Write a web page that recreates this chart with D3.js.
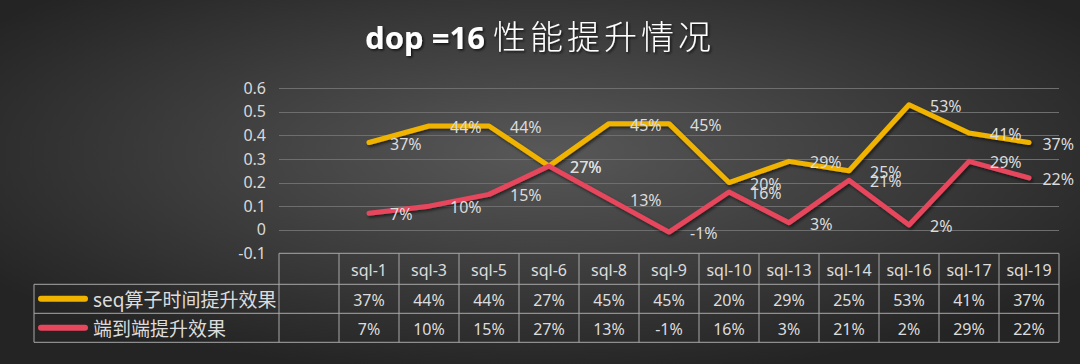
<!DOCTYPE html>
<html><head><meta charset="utf-8">
<script src="https://cdn.jsdelivr.net/npm/d3@7"></script>
<style>
html,body{margin:0;padding:0;background:#333;}
svg{display:block;}
text{font-family:"Noto Sans","Noto Sans CJK SC",sans-serif;}
</style></head>
<body>
<svg id="chart" width="1080" height="364"></svg>
<script>
const titleLatin = "dop =16 ";
const titleCJK = "性能提升情况";
const categories = ["sql-1","sql-3","sql-5","sql-6","sql-8","sql-9","sql-10","sql-13","sql-14","sql-16","sql-17","sql-19"];
const seriesNames = ["seq算子时间提升效果","端到端提升效果"];
const seqValues = [0.37,0.44,0.44,0.27,0.45,0.45,0.20,0.29,0.25,0.53,0.41,0.37];
const e2eValues = [0.07,0.10,0.15,0.27,0.13,-0.01,0.16,0.03,0.21,0.02,0.29,0.22];
const yTicks = [-0.1,0,0.1,0.2,0.3,0.4,0.5,0.6];
const yTickLabels = ["-0.1","0","0.1","0.2","0.3","0.4","0.5","0.6"];
const colors = ["#f0b400","#e6475d"];

const svg = d3.select("#chart");
const W = 1080, H = 364;
const defs = svg.append("defs");
const rg = defs.append("radialGradient").attr("id","bg").attr("cx","50%").attr("cy","42%").attr("r","62%");
rg.append("stop").attr("offset","0%").attr("stop-color","#585858");
rg.append("stop").attr("offset","100%").attr("stop-color","#242424");
const f = defs.append("filter").attr("id","sh").attr("x","-10%").attr("y","-30%").attr("width","120%").attr("height","160%");
f.append("feDropShadow").attr("dx",1.5).attr("dy",2).attr("stdDeviation",1.5).attr("flood-color","#000").attr("flood-opacity",0.55);
const ft = defs.append("filter").attr("id","tsh");
ft.append("feDropShadow").attr("dx",1.5).attr("dy",1.5).attr("stdDeviation",1).attr("flood-color","#000").attr("flood-opacity",0.7);

svg.append("rect").attr("width",W).attr("height",H).attr("fill","url(#bg)");

// title
const t = svg.append("text").attr("x",540).attr("y",49).attr("text-anchor","middle").attr("fill","#ffffff").attr("filter","url(#tsh)");
t.append("tspan").attr("font-weight","bold").attr("font-size",31).text(titleLatin);
t.append("tspan").attr("font-family","'Noto Sans CJK SC'").attr("font-weight",300).attr("font-size",33).attr("letter-spacing",4).text(titleCJK);

const x = d3.scaleBand().domain(["", ...categories]).range([279, 1059]);
const y = d3.scaleLinear().domain([-0.1, 0.6]).range([253.3, 88.3]);

// gridlines
svg.append("g").selectAll("line").data(yTicks.filter(d => d > -0.1)).join("line")
  .attr("x1",279).attr("x2",1059).attr("y1",d=>Math.round(y(d))+0.5).attr("y2",d=>Math.round(y(d))+0.5)
  .attr("stroke","#6e6e6e").attr("stroke-width",1);

// y axis
const yAxis = d3.axisLeft(y).tickValues(yTicks).tickSize(0).tickPadding(0)
  .tickFormat((d,i) => yTickLabels[i]);
const ga = svg.append("g").attr("transform","translate(266,0)").call(yAxis);
ga.select(".domain").remove();
ga.selectAll("text").attr("font-size",16).attr("fill","#d9d9d9").attr("font-family","'Noto Sans'");

// lines
const series = [seqValues, e2eValues];
const line = d3.line().x((d,i)=>x(categories[i]) + x.bandwidth()/2).y(d=>y(d));
svg.append("g").selectAll("path").data(series).join("path")
  .attr("d", line).attr("fill","none").attr("stroke",(d,i)=>colors[i])
  .attr("stroke-width",5).attr("stroke-linejoin","round").attr("stroke-linecap","round")
  .attr("filter","url(#sh)");

// data labels
const fmt = d => d3.format(".0%")(d).replace("\u2212","-");
series.forEach((vals, si) => {
  svg.append("g").selectAll("text").data(vals).join("text")
    .attr("font-size",16).attr("fill","#dcdcdc")
    .attr("dominant-baseline","central")
    .text(d => fmt(d))
    .each(function(d,i){
      const w = this.getComputedTextLength();
      let px = x(categories[i]) + x.bandwidth()/2 + 21;
      if (px + w > 1074) px = 1074 - w;
      d3.select(this).attr("x",px).attr("y",y(d)+1);
    });
});

// data table
const rowTop = 253.3, hdrH = 31, rowH = 29;
const tg = svg.append("g");
const stroke = "#a8a8a8";
const rows = [rowTop, rowTop+hdrH, rowTop+hdrH+rowH, rowTop+hdrH+2*rowH];
tg.append("line").attr("x1",279).attr("x2",1059).attr("y1",rows[0]).attr("y2",rows[0]).attr("stroke",stroke);
[rows[1],rows[2],rows[3]].forEach(yy => tg.append("line").attr("x1",34).attr("x2",1059).attr("y1",yy).attr("y2",yy).attr("stroke",stroke));
const vx = x.domain().map(c => x(c)).concat([1059]);
tg.selectAll("line.v").data(vx).join("line").attr("class","v")
  .attr("x1",d=>d).attr("x2",d=>d).attr("y1",rows[0]).attr("y2",rows[3]).attr("stroke",stroke);
tg.append("line").attr("x1",34).attr("x2",34).attr("y1",rows[1]).attr("y2",rows[3]).attr("stroke",stroke);
tg.selectAll("text.h").data(categories).join("text").attr("class","h")
  .attr("x",d=>x(d)+x.bandwidth()/2).attr("y",rows[0]+hdrH/2+1).attr("text-anchor","middle")
  .attr("dominant-baseline","central").attr("font-size",16).attr("fill","#dcdcdc").text(d=>d);
series.forEach((vals, si) => {
  const cy = rows[1+si] + rowH/2;
  tg.append("g").selectAll("text").data(vals).join("text")
    .attr("x",(d,i)=>x(categories[i])+x.bandwidth()/2).attr("y",cy+1).attr("text-anchor","middle")
    .attr("dominant-baseline","central").attr("font-size",16).attr("fill","#dcdcdc").text(d=>fmt(d));
  tg.append("line").attr("x1",41).attr("x2",85).attr("y1",cy).attr("y2",cy)
    .attr("stroke",colors[si]).attr("stroke-width",6).attr("stroke-linecap","round");
  tg.append("text").attr("x",93).attr("y",cy+1).attr("dominant-baseline","central")
    .attr("font-size",19).attr("fill","#dcdcdc").attr("font-family","'Noto Sans','Noto Sans CJK SC'")
    .text(seriesNames[si]);
});
</script>
</body></html>
